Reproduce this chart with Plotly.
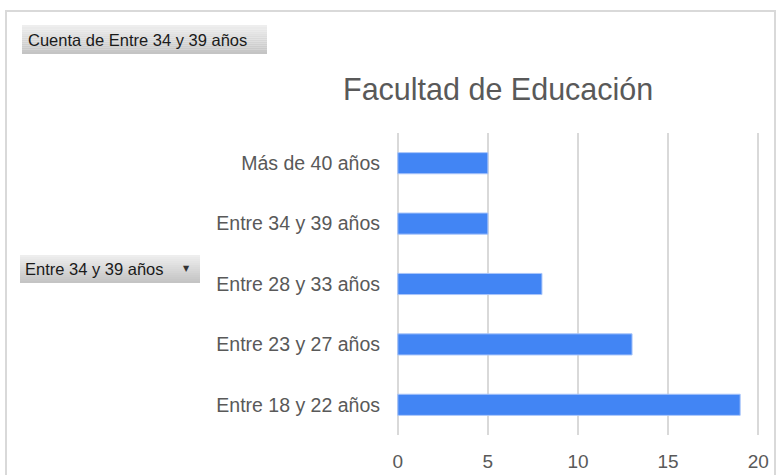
import plotly.graph_objects as go

# Data
categorias = ['Entre 18 y 22 años', 'Entre 23 y 27 años', 'Entre 28 y 33 años',
              'Entre 34 y 39 años', 'Más de 40 años']
cuenta = [19, 13, 8, 5, 5]
x_ticks = [0, 5, 10, 15, 20]

gris_texto = '#595959'

# plot area in pixels: x 396..760 (0 -> ~398, 20 -> ~758), y 133..435
L, R, T, B = 396, 760, 133, 435
W, H = R - L, B - T

def px_x(px):
    return (px - L) / W

def px_y(py):
    return (B - py) / H

fig = go.Figure()
fig.add_trace(go.Bar(
    x=cuenta, y=categorias, orientation='h',
    marker=dict(color='#4285f4', line=dict(color='#a9c5fa', width=1)),
    hoverinfo='x+y', showlegend=False,
))

# Outer chart frame
fig.add_shape(type='rect', xref='paper', yref='paper',
              x0=px_x(6), x1=px_x(775), y0=px_y(520), y1=px_y(11),
              line=dict(color='#d9d9d9', width=2), fillcolor='rgba(0,0,0,0)', layer='below')

# Field buttons (pivot chart style, gray gradient)
def boton(x0, x1, y0, y1):
    n = 14
    for i in range(n):
        top = y0 + (y1 - y0) * i / n
        bot = y0 + (y1 - y0) * (i + 1) / n
        shade = int(238 - 42 * i / (n - 1))
        fig.add_shape(type='rect', xref='paper', yref='paper',
                      x0=px_x(x0), x1=px_x(x1), y0=px_y(bot), y1=px_y(top),
                      line=dict(width=0), fillcolor=f'rgb({shade},{shade},{shade})')

boton(22, 267, 25, 54)
boton(20, 200, 255, 283)

fig.add_annotation(text='Cuenta de Entre 34 y 39 años', xref='paper', yref='paper',
                   x=px_x(26), y=px_y(40), xanchor='left', yanchor='middle',
                   showarrow=False, font=dict(family='Liberation Sans', size=16.5, color='#1a1a1a'))
fig.add_annotation(text='Entre 34 y 39 años', xref='paper', yref='paper',
                   x=px_x(23), y=px_y(269), xanchor='left', yanchor='middle',
                   showarrow=False, font=dict(family='Liberation Sans', size=16.5, color='#1a1a1a'))
fig.add_annotation(text='▼', xref='paper', yref='paper',
                   x=px_x(186), y=px_y(268), xanchor='center', yanchor='middle',
                   showarrow=False, font=dict(family='DejaVu Sans', size=8, color='#333333'))

# Title
fig.add_annotation(text='Facultad de Educación', xref='paper', yref='paper',
                   x=px_x(498), y=px_y(89), xanchor='center', yanchor='middle',
                   showarrow=False, font=dict(family='Liberation Sans', size=30.5, color=gris_texto))

fig.update_layout(
    width=781, height=475,
    margin=dict(l=L, r=781 - R, t=T, b=475 - B, autoexpand=False),
    paper_bgcolor='white', plot_bgcolor='white',
    bargap=0.65,
    font=dict(family='Liberation Sans', size=19, color=gris_texto),
    xaxis=dict(range=[-0.1, 20.1], tickvals=x_ticks, showgrid=True, gridcolor='#d9d9d9',
               gridwidth=2, zeroline=False,
               showline=False, ticks='', automargin=False,
               ticklabelstandoff=13, tickfont=dict(size=19, color=gris_texto)),
    yaxis=dict(categoryorder='array', categoryarray=categorias, showgrid=False,
               zeroline=False, showline=False, ticks='', ticklabelstandoff=15,
               automargin=False, tickfont=dict(size=19.5, color=gris_texto)),
)

fig.write_html('out.html', config={'displayModeBar': False},
               post_script="document.body.style.margin='0px';")
